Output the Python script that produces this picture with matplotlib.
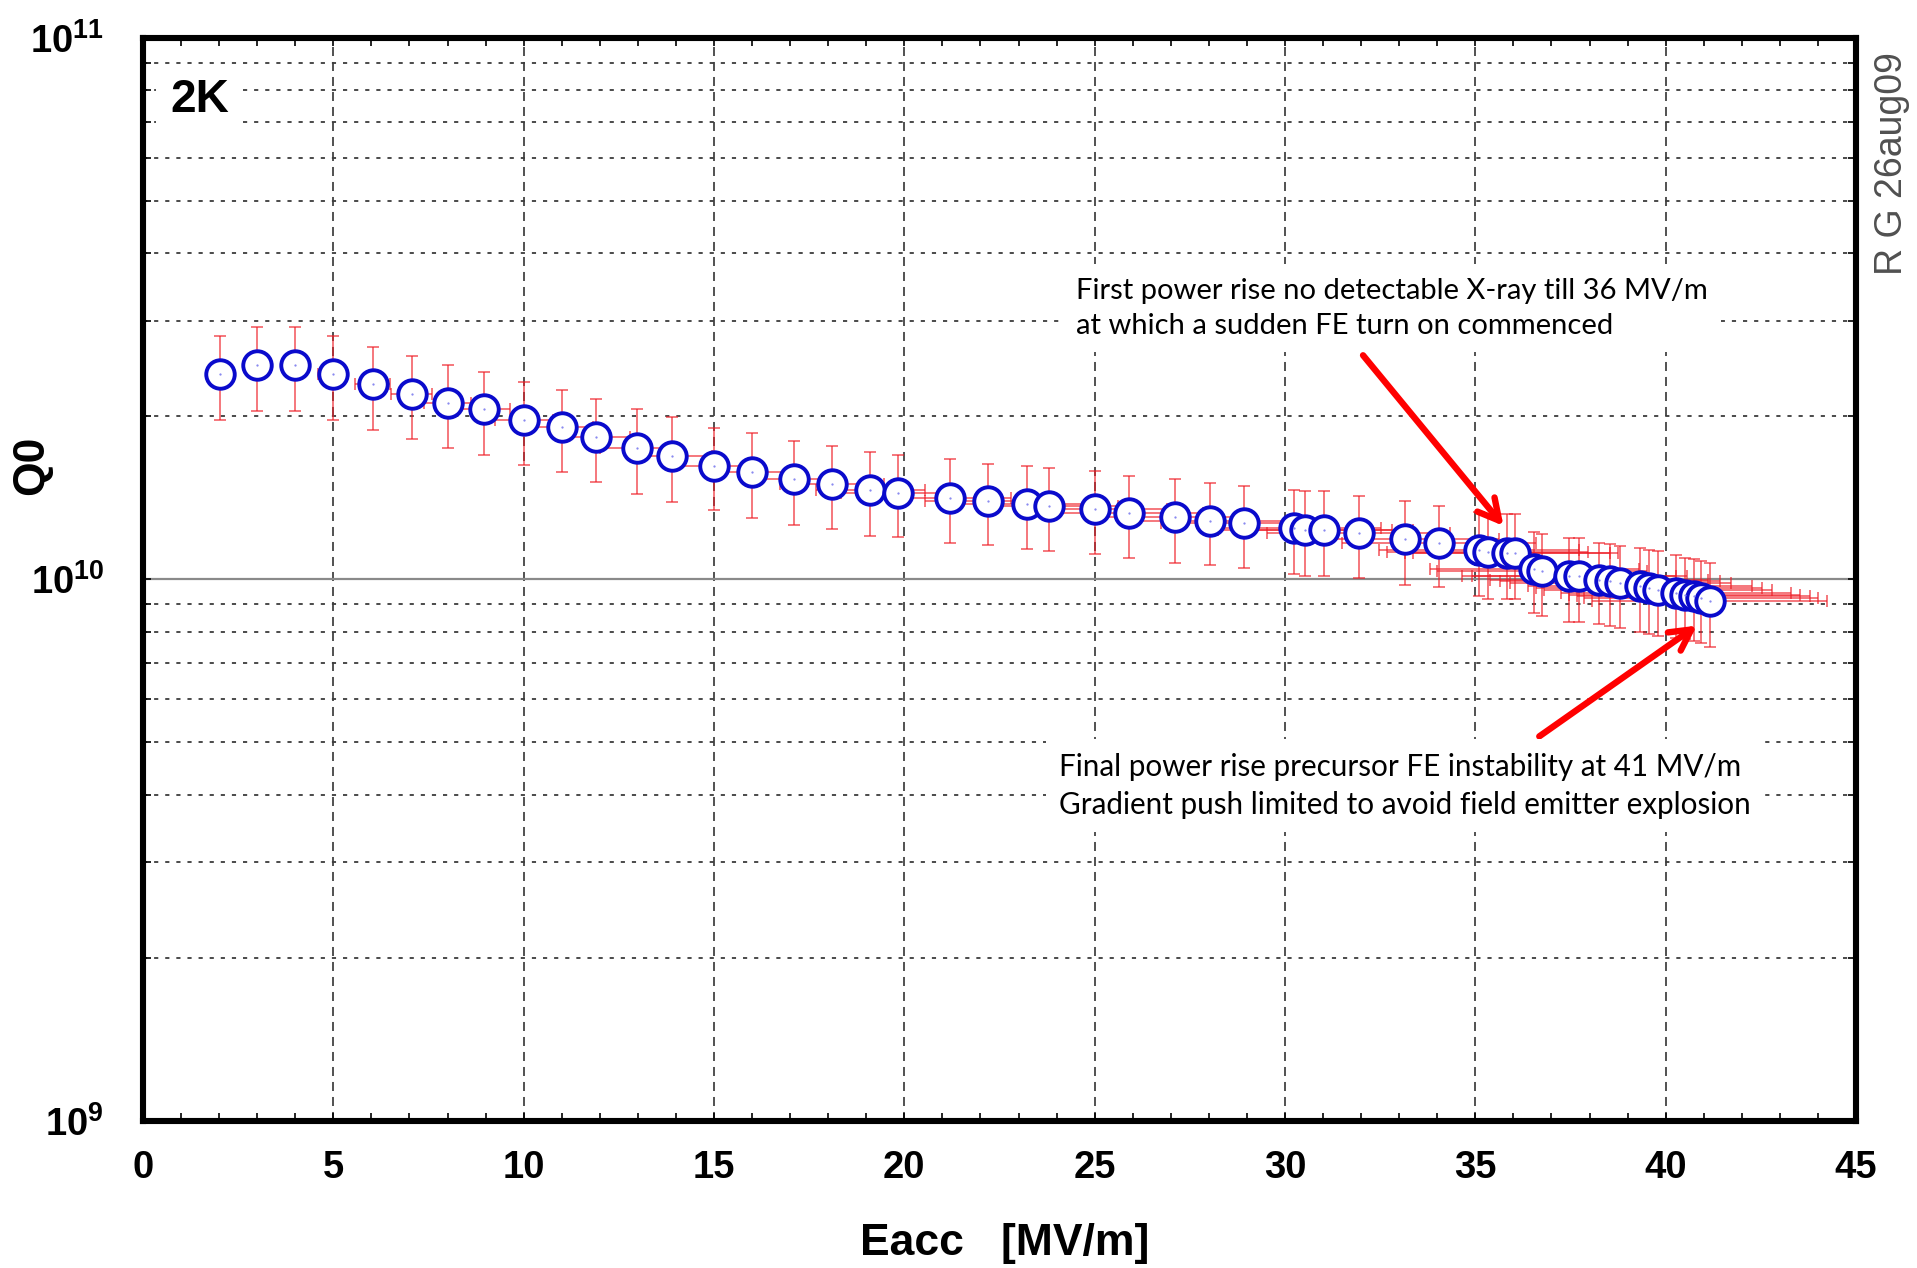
import matplotlib

matplotlib.use("Agg")
import matplotlib.pyplot as plt
from matplotlib.ticker import LogLocator, MultipleLocator, NullFormatter

# accelerating gradient [MV/m] and Q0 (in units of 1e10)
E_ACC = [2.03, 2.99, 3.99, 4.99, 6.03, 7.06, 8.0, 8.96, 10.02, 11.0,
         11.9, 12.98, 13.9, 15.01, 15.99, 17.09, 18.1, 19.1, 19.83, 21.2,
         22.21, 23.21, 23.81, 25.01, 25.91, 27.12, 28.02, 28.92, 30.24, 30.53,
         31.02, 31.94, 33.14, 34.04, 35.1, 35.32, 35.84, 36.05, 36.55, 36.76,
         37.45, 37.73, 38.25, 38.53, 38.81, 39.33, 39.56, 39.8, 40.27, 40.5,
         40.74, 40.93, 41.16]
Q0_E10 = [2.39, 2.49, 2.49, 2.39, 2.29, 2.20, 2.12, 2.06, 1.97, 1.91,
          1.83, 1.75, 1.69, 1.62, 1.58, 1.53, 1.50, 1.46, 1.445, 1.415,
          1.395, 1.376, 1.368, 1.347, 1.324, 1.302, 1.283, 1.269, 1.243, 1.234,
          1.234, 1.217, 1.186, 1.166, 1.132, 1.121, 1.118, 1.118, 1.045, 1.034,
          1.012, 1.012, 0.998, 0.991, 0.984, 0.970, 0.963, 0.957, 0.943, 0.936,
          0.930, 0.923, 0.910]
Q0_ERR_E10 = [0.42, 0.44, 0.44, 0.42, 0.40, 0.385, 0.37, 0.36, 0.345, 0.33,
              0.32, 0.31, 0.30, 0.28, 0.28, 0.27, 0.26, 0.26, 0.25, 0.25,
              0.24, 0.24, 0.24, 0.235, 0.23, 0.23, 0.22, 0.22, 0.22, 0.22,
              0.22, 0.21, 0.21, 0.20, 0.20, 0.20, 0.20, 0.20, 0.18, 0.18,
              0.18, 0.18, 0.17, 0.17, 0.17, 0.17, 0.17, 0.17, 0.165, 0.16,
              0.16, 0.16, 0.16]
E_ERR = [0.15, 0.22, 0.3, 0.38, 0.46, 0.54, 0.61, 0.68, 0.76, 0.83,
         0.89, 0.97, 1.04, 1.13, 1.2, 1.28, 1.36, 1.43, 1.49, 1.59,
         1.67, 1.74, 1.79, 1.88, 1.94, 2.03, 2.1, 2.17, 2.27, 2.29,
         2.33, 2.4, 2.49, 2.55, 2.63, 2.65, 2.69, 2.7, 2.74, 2.76,
         2.81, 2.83, 2.87, 2.89, 2.91, 2.95, 2.97, 2.99, 3.02, 3.04,
         3.06, 3.07, 3.09]

X_TICKS = [0, 5, 10, 15, 20, 25, 30, 35, 40, 45]
Y_TICKS = [1e9, 1e10, 1e11]
Y_LABELS = [r"$\mathbf{10}^{\mathbf{9}}$", r"$\mathbf{10}^{\mathbf{10}}$",
            r"$\mathbf{10}^{\mathbf{11}}$"]

NOTE_FIRST = ("First power rise no detectable X-ray till 36 MV/m\n"
              "at which a sudden FE turn on commenced")
NOTE_FINAL = ("Final power rise precursor FE instability at 41 MV/m\n"
              "Gradient push limited to avoid field emitter explosion")

W, H = 1917, 1268
BLUE = "#0a0acc"

plt.rcParams.update({
    "font.family": ["Liberation Sans", "DejaVu Sans"],
    "mathtext.fontset": "custom",
    "mathtext.bf": "Liberation Sans:bold",
    "mathtext.rm": "Liberation Sans",
    "lines.scale_dashes": False,
})

fig = plt.figure(figsize=(W / 100, H / 100), dpi=100)
ax = fig.add_axes([143 / W, 1 - 1120.5 / H, (1856 - 143) / W, (1120.5 - 38) / H])
ax.set_yscale("log")
ax.set_xlim(0, 45)
ax.set_ylim(1e9, 1e11)

ax.set_axisbelow(True)
ax.grid(axis="x", which="major", color="#333333", lw=1.2, ls=(0, (6.5, 4.3)))
ax.grid(axis="y", which="minor", color="#3c3c3c", lw=1.3, ls=(0, (3, 5)))
ax.grid(axis="y", which="major", color="#8a8a8a", lw=1.6, ls="-")

q = [v * 1e10 for v in Q0_E10]
dq = [v * 1e10 for v in Q0_ERR_E10]
ax.errorbar(E_ACC, q, xerr=E_ERR, yerr=dq, fmt="none", ecolor="#ee1c25",
            elinewidth=1.4, capsize=4.5, capthick=1.4, alpha=0.6, zorder=3)
ax.plot(E_ACC, q, ls="none", marker="o", ms=20.5, mfc="white", mec=BLUE,
        mew=2.8, zorder=4)
ax.plot(E_ACC, q, ls="none", marker=".", ms=1.2, color="#8080ee", zorder=5)

ax.set_xticks(X_TICKS, labels=[str(v) for v in X_TICKS],
              fontsize=27.5, fontweight="bold")
ax.xaxis.set_minor_locator(MultipleLocator(1))
ax.set_yticks(Y_TICKS, labels=Y_LABELS, fontsize=27.5)
ax.yaxis.set_minor_locator(LogLocator(base=10, subs=range(2, 10)))
ax.yaxis.set_minor_formatter(NullFormatter())
ax.tick_params(axis="both", which="both", direction="in", top=True,
               right=True, length=6, width=1.2)
ax.tick_params(axis="x", which="major", pad=21)
ax.tick_params(axis="y", which="major", pad=28)
for side in ax.spines.values():
    side.set_linewidth(4.4)

white = dict(facecolor="white", edgecolor="none")
fig.text(170 / W, 1 - 112 / H, "2K", fontsize=33, fontweight="bold",
         va="baseline", bbox=dict(boxstyle="square,pad=0.3", **white))
# va="baseline" on two-line text pins the second line's baseline
fig.text(1076 / W, 1 - 334 / H, NOTE_FIRST, family="Lato", fontsize=21,
         va="baseline", linespacing=1.45,
         bbox=dict(boxstyle="square,pad=0.45", **white))
fig.text(1059 / W, 1 - 814 / H, NOTE_FINAL, family="Lato", fontsize=21.3,
         va="baseline", linespacing=1.45,
         bbox=dict(boxstyle="square,pad=0.45", **white))

arrow = dict(arrowstyle="->,head_length=0.75,head_width=0.4", color="red",
             lw=4.6, mutation_scale=20, shrinkA=0, shrinkB=0,
             capstyle="round", joinstyle="round")
ax.annotate("", xy=(35.74, 1.255e10), xytext=(32.05, 2.593e10),
            arrowprops=arrow, zorder=6)
ax.annotate("", xy=(40.82, 8.21e9), xytext=(36.68, 5.125e9),
            arrowprops=arrow, zorder=6)

fig.text(1005 / W, 1 - 1243 / H, "Eacc   [MV/m]", fontsize=32,
         fontweight="bold", ha="center", va="center")
fig.text(32 / W, 1 - 465 / H, "Q0", fontsize=32, fontweight="bold",
         rotation=90, ha="center", va="center")
fig.text(1892 / W, 1 - 164 / H, "R G 26aug09", fontsize=27, color="#505050",
         rotation=90, ha="center", va="center")

fig.savefig("out.png", dpi=100, facecolor="white")
